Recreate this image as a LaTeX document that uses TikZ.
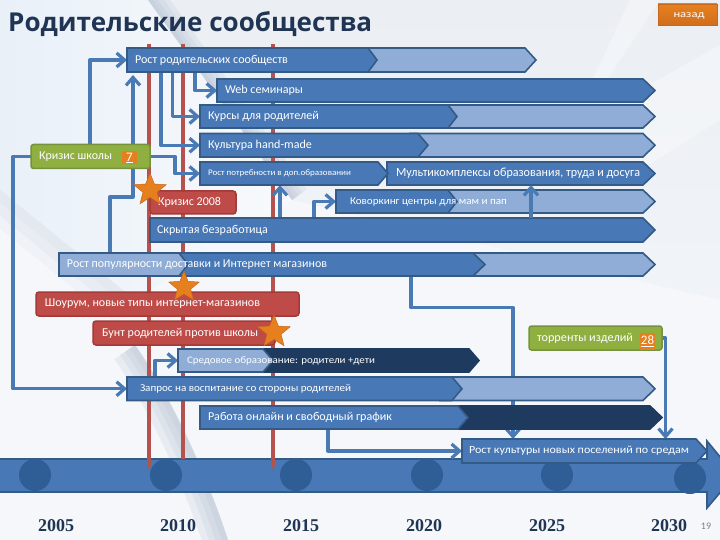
\documentclass[tikz,border=0pt]{standalone}
\usepackage{fontspec}
\usepackage{graphicx}
\setmainfont{Carlito}
\newfontfamily\titlefont{Open Sans}
\newfontfamily\yearfont{Liberation Serif}
\usetikzlibrary{shapes.geometric,arrows.meta,shadings}
\definecolor{barblue}{HTML}{4878B6}
\definecolor{barline}{HTML}{345A86}
\definecolor{barlight}{HTML}{8FADD6}
\definecolor{barnavy}{HTML}{1F3A5F}
\definecolor{redfill}{HTML}{BE4B48}
\definecolor{redline}{HTML}{A23A38}
\definecolor{redvert}{HTML}{B5524E}
\definecolor{greenfill}{HTML}{8FAF41}
\definecolor{greenline}{HTML}{76923C}
\definecolor{orangefill}{HTML}{E6801F}
\definecolor{orangeline}{HTML}{C8661A}
\definecolor{conncol}{HTML}{4A7AB4}
\definecolor{circcol}{HTML}{2F5D96}
\definecolor{titlecol}{HTML}{1F3553}
\definecolor{bgtop}{HTML}{EBEFF4}
\definecolor{bgbot}{HTML}{F5F7FB}
\definecolor{bgleft}{HTML}{E9F0F8}
\definecolor{bgpale}{HTML}{F8FAFD}
\definecolor{bandcol}{HTML}{AEBBCE}
\pgfdeclarelayer{back}\pgfdeclarelayer{conn}\pgfdeclarelayer{over}
\pgfsetlayers{back,conn,main,over}
\newlength\fitlen
\newcommand\fitw[2]{\settowidth{\fitlen}{#2}\pgfmathsetmacro\fitx{#1/\fitlen}\raisebox{-1.5pt}{\scalebox{\fitx}[1]{#2}}}
% polygon: style, x0, xbody, xtip, y0, y1
\newcommand\pent[6]{\draw[#1] (#2,#5) -- (#3,#5) -- (#4,{(#5+#6)/2}) -- (#3,#6) -- (#2,#6) -- cycle;}
% label node spanning a shape: name, x0, x1, y0, y1, text inset, text width, font size, text
\newcommand\tbar[9]{%
  \pgfmathsetmacro\bw{#3-#2}\pgfmathsetmacro\bh{#5-#4}%
  \pgfmathsetmacro\bx{(#2+#3)/2}\pgfmathsetmacro\by{(#4+#5)/2}%
  \node[barnode,minimum width=\bw pt,minimum height=\bh pt,font=\fontsize{#8}{#8}\selectfont] (#1) at (\bx,\by)
    {\makebox[\bw pt][l]{\hspace{#6pt}\fitw{#7}{#9}}};}
\newcommand\topcurve{(148,0) -- (292,200)}
\newcommand\lowcurve{(135,345) .. controls (170,395) and (205,470) .. (228,540)}
\newcommand\midcurve{(0,190) -- (135,300)}
\tikzset{
  x=1pt,y=-1pt,
  barnode/.style={inner sep=0pt,outer sep=0pt,text=white,anchor=center},
  darkbar/.style={fill=barblue,draw=barline,line width=1.6pt,line join=miter},
  lightbar/.style={fill=barlight,draw=barline,line width=1.6pt,line join=miter},
  navybar/.style={fill=barnavy,draw=barnavy,line width=1.6pt,line join=miter},
  redbox/.style={fill=redfill,draw=redline,line width=1.5pt,rounded corners=3pt},
  greenbox/.style={fill=greenfill,draw=greenline,line width=1.5pt,rounded corners=2.5pt},
  conn/.style={draw=conncol,line width=3.3pt,line join=round},
  tipconn/.style={conn,-{Straight Barb[length=8pt,width=14pt,line width=3.2pt]}},
  redlinev/.style={draw=redvert,line width=4.2pt},
  yearlabel/.style={font=\yearfont\bfseries\fontsize{18}{18}\selectfont,text=titlecol},
  starmark/.style={star,star points=5,star point ratio=2.3,fill=orangefill,draw=orangeline,line width=.5pt,minimum size=34pt,inner sep=0pt},
  circmark/.style={circle,fill=circcol,minimum size=32pt,inner sep=0pt},
  numbox/.style={fill=orangefill,text=white,inner sep=0pt,font=\fontsize{13}{13}\selectfont},
  bandstrip/.style={draw=bandcol,opacity=.18},
}
\begin{document}
\begin{tikzpicture}
\useasboundingbox (0,0) rectangle (720,540);
\begin{pgfonlayer}{back}
  \shade[top color=bgtop,bottom color=bgbot] (0,0) rectangle (720,540);
  % pale left field bounded by the diagonal
  \shade[left color=bgleft,right color=bgpale] (0,0) -- (148,0) -- (292,200) -- (135,300) -- (0,190) -- cycle;
  \fill[bgbot] (0,190) -- (135,300) -- (135,345) .. controls (170,395) and (205,470) .. (228,540) -- (0,540) -- cycle;
  \fill[bgbot] (292,200) -- (135,300) -- (135,345) .. controls (170,395) and (205,470) .. (228,540) -- (720,540) -- (720,300) -- cycle;
  % soft white streaks top right
  \fill[white,opacity=.3] (590,85) -- (630,0) -- (660,0) -- (600,90) -- cycle;
  \fill[white,opacity=.3] (640,90) -- (720,45) -- (720,120) -- (640,170) -- cycle;
  % upper diagonal band, fading to the right
  \begin{scope}
    \clip (148,0) -- (292,200) -- (400,200) -- (400,0) -- cycle;
    \foreach \w in {36,26,16,8}{\draw[bandstrip,line width=\w pt] \topcurve;}
  \end{scope}
  % lower-left diagonal, fading downward
  \begin{scope}
    \clip (0,190) -- (135,300) -- (135,420) -- (0,420) -- cycle;
    \foreach \w in {60,40,20}{\draw[draw=bandcol,opacity=.08,line width=\w pt] \midcurve;}
  \end{scope}
  % curved band, dark at its right edge
  \begin{scope}
    \clip (135,345) .. controls (170,395) and (205,470) .. (228,540) -- (0,540) -- (0,300) -- cycle;
    \foreach \w in {50,36,24,12}{\draw[bandstrip,line width=\w pt] \lowcurve;}
  \end{scope}
  % timeline
  \draw[fill=barblue,draw=barline,line width=1.6pt] (-5,459) -- (707,459) -- (707,441) -- (735,475) -- (707,508) -- (707,492) -- (-5,492) -- cycle;
  \node[circmark] (c05) at (35,475) {};
  \node[circmark] (c10) at (166,475) {};
  \node[circmark] (c15) at (296,475) {};
  \node[circmark] (c20) at (427,475) {};
  \node[circmark] (c25) at (557,475) {};
  \node[circmark] (c30) at (690,478) {};
  \draw[redlinev] (149,44) -- (149,464);
  \fill[redvert] (146.9,464) -- (151.1,464) -- (149,470) -- cycle;
  \draw[redlinev] (183,44) -- (183,459);
  \draw[redlinev] (273,44) -- (273,464);
  \fill[redvert] (270.9,464) -- (275.1,464) -- (273,470) -- cycle;
\end{pgfonlayer}
% title and button
\node[anchor=west,inner sep=0pt,text=titlecol,font=\titlefont\bfseries\fontsize{26}{26}\selectfont] (title) at (8,24) {\fitw{364}{Родительские сообщества}};
\shade[top color=orangefill,bottom color=orangeline!70!orangefill,draw=orangeline,line width=.4pt] (658,4) rectangle (717,25);
\node[text=white,inner sep=0pt,font=\fontsize{10}{10}\selectfont] (back) at (689,16) {\fitw{31}{назад}};
% bars
\pent{lightbar}{360}{525}{536}{48}{72}
\pent{darkbar}{127}{368}{377}{48}{72}
\tbar{rost}{127}{536}{48}{72}{8}{153}{12}{Рост родительских сообществ}
\pent{darkbar}{217}{643}{655}{79}{102}
\tbar{web}{217}{655}{79}{102}{8}{78}{12}{Web семинары}
\pent{lightbar}{440}{643}{655}{105}{128}
\pent{darkbar}{200}{448}{457}{105}{128}
\tbar{kursy}{200}{655}{105}{128}{8}{111}{12}{Курсы для родителей}
\pent{lightbar}{410}{643}{655}{133.5}{157}
\pent{darkbar}{200}{418}{428}{133.5}{157}
\tbar{kult}{200}{655}{133.5}{157}{8}{104}{12}{Культура hand-made}
\pent{darkbar}{387}{643}{655}{162}{185}
\tbar{multi}{387}{655}{162}{185}{9}{244}{12.5}{Мультикомплексы образования, труда и досуга}
\pent{darkbar}{200}{378}{388}{162}{185}
\tbar{potr}{200}{388}{162}{185}{8}{143}{8.5}{Рост потребности в доп.образовании}
\pent{lightbar}{440}{643}{655}{190}{213}
\pent{darkbar}{336}{448}{457}{190}{213}
\tbar{kov}{336}{655}{190}{213}{14}{157}{10.5}{Коворкинг центры для мам и пап}
\pent{darkbar}{150}{643}{655}{218}{242}
\tbar{skr}{150}{655}{218}{242}{7}{111}{12}{Скрытая безработица}
\pent{lightbar}{465}{643}{655}{253}{276}
\pent{darkbar}{170}{473}{485}{253}{276}
\pent{lightbar}{59}{179}{188}{253}{276}
\tbar{pop}{59}{655}{253}{276}{8}{260}{12}{Рост популярности доставки и Интернет магазинов}
\draw[redbox] (36,292) rectangle (299,316);
\tbar{show}{36}{299}{292}{316}{9}{215}{12}{Шоурум, новые типы интернет-магазинов}
\draw[redbox] (93,321) rectangle (275,345);
\tbar{bunt}{93}{275}{321}{345}{9}{156}{12}{Бунт родителей против школы}
\draw[redbox] (150,191) rectangle (236,214);
\tbar{kr08}{150}{236}{191}{214}{8}{63}{12}{Кризис 2008}
\draw[greenbox] (31,144.5) rectangle (150,168.5);
\tbar{krsh}{31}{150}{144.5}{168.5}{8}{73}{12}{Кризис школы}
\node[numbox,minimum width=15pt,minimum height=13pt] (n7) at (129.5,158) {\underline{7}};
\draw[greenbox] (529,326) rectangle (662,350);
\tbar{torr}{529}{662}{326}{350}{8}{96}{12}{торренты изделий}
\node[numbox,minimum width=15pt,minimum height=17pt] (n28) at (647.5,341) {\underline{28}};
\pent{navybar}{255}{469}{479}{349}{372}
\pent{lightbar}{178}{263}{273}{349}{372}
\tbar{sred}{178}{479}{349}{372}{9}{188}{10}{Средовое образование: родители +дети}
\pent{lightbar}{440}{643}{655}{377}{400.5}
\pent{darkbar}{127}{452}{462}{377}{400.5}
\tbar{zapr}{127}{655}{377}{400.5}{13}{211}{10.5}{Запрос на воспитание со стороны родителей}
\pent{navybar}{450}{650}{662}{406}{429}
\pent{darkbar}{200}{458}{468}{406}{429}
\tbar{rab}{200}{662}{406}{429}{8}{184}{12}{Работа онлайн и свободный график}
\pent{darkbar}{462}{696}{707}{439}{463}
\tbar{kultn}{462}{707}{439}{463}{7}{220}{11}{Рост культуры новых поселений по средам}
% connectors
\begin{pgfonlayer}{conn}
  \draw[tipconn] ([xshift=59pt]krsh.north west) |- (rost.west);
  \draw[tipconn] ([xshift=51pt]pop.north west) -- ++(0,-56) -| ([xshift=6pt,yshift=-3pt]rost.south west);
  \draw[tipconn] ([xshift=68pt]rost.south west) |- (web.west);
  \draw[tipconn] ([xshift=45.5pt]rost.south west) |- (kursy.west);
  \draw[tipconn] ([xshift=34pt]rost.south west) |- (kult.west);
  \draw[tipconn] (krsh.east) -- ++(25,0) |- (potr.west);
  \draw[tipconn] (krsh.west) -- ++(-18,0) |- (zapr.west);
  \draw[tipconn] ([xshift=130pt]skr.north west) -- ([xshift=80pt]potr.south west);
  \draw[tipconn] ([xshift=164pt]skr.north west) |- (kov.west);
  \draw[tipconn] ([xshift=28pt]zapr.north west) |- (sred.west);
  \draw[tipconn] ([xshift=352pt]pop.south west) -- ++(0,31.5) -| ([xshift=51pt]kultn.north west);
  \draw[tipconn] (torr.east) -- ++(3.5,0) -- ([xshift=203.5pt]kultn.north west);
  \draw[tipconn] ([xshift=128pt]rab.south west) |- (kultn.west);
\end{pgfonlayer}
\begin{pgfonlayer}{over}
  \draw[tipconn] ([xshift=381pt]skr.north west) -- ([xshift=144pt]multi.south west);
  \node[starmark] (s1) at (150,190) {};
  \node[starmark,minimum size=32pt] (s2) at (184,287) {};
  \node[starmark] (s3) at (274,332) {};
\end{pgfonlayer}
% years
\node[yearlabel] (y05) at (56,526) {2005};
\node[yearlabel] (y10) at (178,526) {2010};
\node[yearlabel] (y15) at (301,526) {2015};
\node[yearlabel] (y20) at (424,526) {2020};
\node[yearlabel] (y25) at (547,526) {2025};
\node[yearlabel] (y30) at (669,526) {2030};
\node[text=gray,inner sep=0pt,font=\fontsize{10}{10}\selectfont] (pg) at (706,526) {19};
\end{tikzpicture}
\end{document}
